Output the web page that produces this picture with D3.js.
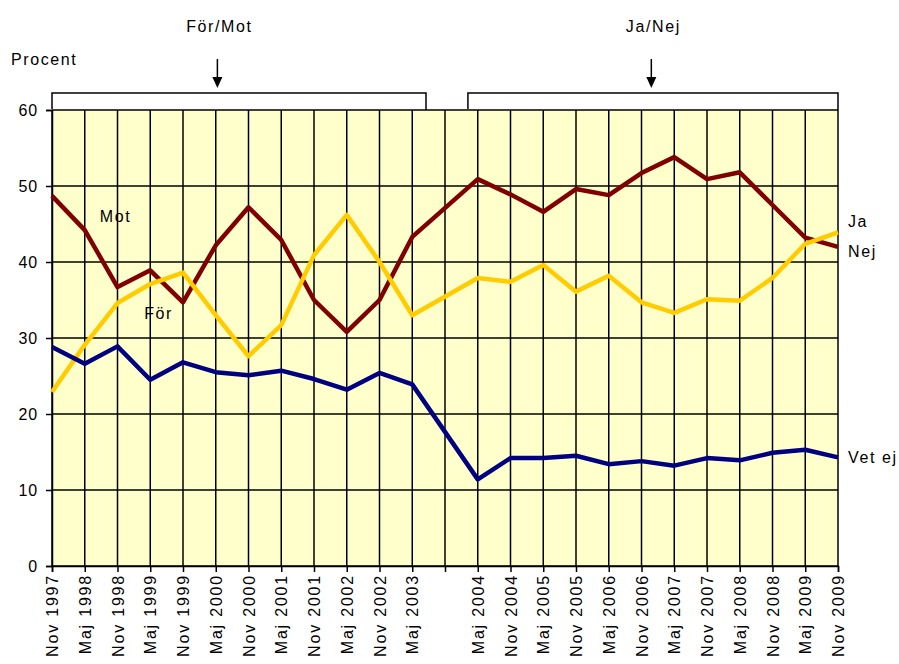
<!DOCTYPE html>
<html lang="sv">
<head>
  <meta charset="UTF-8">
  <title>För/Mot – Ja/Nej</title>
  <script src="https://d3js.org/d3.v7.min.js"></script>
  <style>
    body { margin: 0; background: #fff; font-family: "Liberation Sans", Arial, sans-serif; }
    .axis text { font-size: 16px; fill: #000; letter-spacing: 1.8px; }
    .lbl { font-size: 16px; fill: #000; letter-spacing: 1.6px; }
  </style>
</head>
<body>
  <div id="chart"></div>
  <script>
    // kategorier (tom plats mellan Maj 2003 och Maj 2004)
    const categories = ["Nov 1997", "Maj 1998", "Nov 1998", "Maj 1999", "Nov 1999", "Maj 2000",
      "Nov 2000", "Maj 2001", "Nov 2001", "Maj 2002", "Nov 2002", "Maj 2003", "",
      "Maj 2004", "Nov 2004", "Maj 2005", "Nov 2005", "Maj 2006", "Nov 2006", "Maj 2007",
      "Nov 2007", "Maj 2008", "Nov 2008", "Maj 2009", "Nov 2009"];

    const motValues = [48.7, 44.2, 36.7, 38.9, 34.7, 42.2, 47.2, 42.9, 35.0, 30.8, 35.0, 43.3, null,
      50.9, 48.9, 46.6, 49.6, 48.8, 51.7, 53.8, 50.9, 51.8, 47.5, 43.2, 42.0];
    const forValues = [22.9, 29.1, 34.6, 37.1, 38.6, 33.0, 27.6, 31.7, 40.9, 46.2, 40.0, 33.0, null,
      37.9, 37.4, 39.6, 36.1, 38.2, 34.7, 33.3, 35.1, 34.9, 37.9, 42.4, 43.9];
    const vetejValues = [28.8, 26.6, 28.9, 24.5, 26.8, 25.5, 25.1, 25.7, 24.6, 23.2, 25.4, 23.9, null,
      11.4, 14.2, 14.2, 14.5, 13.4, 13.8, 13.2, 14.2, 13.9, 14.9, 15.3, 14.3];

    const yTicks = [0, 10, 20, 30, 40, 50, 60];

    const width = 899, height = 664;
    const margin = { top: 110, right: 61, bottom: 98, left: 52 };
    const w = width - margin.left - margin.right;
    const h = height - margin.top - margin.bottom;

    const svg = d3.select("#chart").append("svg")
      .attr("width", width)
      .attr("height", height);

    const g = svg.append("g")
      .attr("transform", "translate(" + margin.left + "," + margin.top + ")");

    const x = d3.scalePoint()
      .domain(d3.range(categories.length))
      .range([0, w]);

    const y = d3.scaleLinear()
      .domain([0, 60])
      .range([h, 0]);

    // bakgrund
    g.append("rect")
      .attr("width", w)
      .attr("height", h)
      .attr("fill", "#FFFFCC");

    // rutnät
    g.selectAll(".vgrid")
      .data(d3.range(categories.length))
      .enter().append("line")
      .attr("x1", d => x(d)).attr("x2", d => x(d))
      .attr("y1", 0).attr("y2", h)
      .attr("stroke", "#000").attr("stroke-width", 1.5);

    g.selectAll(".hgrid")
      .data(yTicks)
      .enter().append("line")
      .attr("x1", 0).attr("x2", w)
      .attr("y1", d => y(d)).attr("y2", d => y(d))
      .attr("stroke", "#000").attr("stroke-width", 1.5);

    // axlar
    const yAxis = g.append("g")
      .attr("class", "axis")
      .call(d3.axisLeft(y).tickValues(yTicks).tickSize(6).tickPadding(8));
    yAxis.select(".domain").attr("stroke-width", 1.5);
    yAxis.selectAll(".tick line").attr("stroke-width", 1.5);
    yAxis.selectAll(".tick text").style("letter-spacing", "0.8px");

    const xAxis = g.append("g")
      .attr("class", "axis")
      .attr("transform", "translate(0," + h + ")")
      .call(d3.axisBottom(x).tickSize(6).tickFormat(i => categories[i]));
    xAxis.select(".domain").attr("stroke-width", 1.5);
    xAxis.selectAll(".tick line").attr("stroke-width", 1.5);
    xAxis.selectAll(".tick text")
      .attr("transform", "rotate(-90)")
      .attr("x", -8)
      .attr("y", 0)
      .attr("dy", "0.35em")
      .style("text-anchor", "end");

    // linjer
    const series = [
      { name: "Mot", values: motValues, color: "#800000" },
      { name: "För", values: forValues, color: "#FFCC00" },
      { name: "Vet ej", values: vetejValues, color: "#000080" }
    ];

    const line = d3.line()
      .x(d => x(d.i))
      .y(d => y(d.v));

    series.forEach(s => {
      const pts = s.values.map((v, i) => ({ i: i, v: v })).filter(d => d.v !== null);
      g.append("path")
        .datum(pts)
        .attr("fill", "none")
        .attr("stroke", s.color)
        .attr("stroke-width", 4.5)
        .attr("stroke-linejoin", "round")
        .attr("d", line);
    });

    // etiketter i diagrammet
    g.append("text").attr("class", "lbl").attr("x", x(1) + 15).attr("y", y(45.3)).text("Mot");
    g.append("text").attr("class", "lbl").attr("x", x(3) - 6).attr("y", y(32.5)).text("För");
    g.append("text").attr("class", "lbl").attr("x", w + 10).attr("y", y(44.6)).text("Ja");
    g.append("text").attr("class", "lbl").attr("x", w + 10).attr("y", y(40.7)).text("Nej");
    g.append("text").attr("class", "lbl").attr("x", w + 10).attr("y", y(13.5)).text("Vet ej");

    // rubriker ovanför
    svg.append("text").attr("class", "lbl").attr("x", 11).attr("y", 65).text("Procent");

    const brackets = [
      { name: "För/Mot", from: 0, to: 11.42, arrow: 5.05 },
      { name: "Ja/Nej", from: 12.7, to: 24, arrow: 18.3 }
    ];

    brackets.forEach(b => {
      const x0 = margin.left + x(0) + (x(1) - x(0)) * b.from;
      const x1 = margin.left + x(0) + (x(1) - x(0)) * b.to;
      const xa = margin.left + x(0) + (x(1) - x(0)) * b.arrow;
      svg.append("path")
        .attr("d", "M" + x0 + "," + (margin.top - 1) + "V" + 93 + "H" + x1 + "V" + margin.top)
        .attr("fill", "none")
        .attr("stroke", "#000")
        .attr("stroke-width", 1.5);
      svg.append("line")
        .attr("x1", xa).attr("x2", xa)
        .attr("y1", 59).attr("y2", 80)
        .attr("stroke", "#000").attr("stroke-width", 1.5);
      svg.append("path")
        .attr("d", "M" + (xa - 5) + ",77L" + (xa + 5) + ",77L" + xa + ",88Z")
        .attr("fill", "#000");
      svg.append("text").attr("class", "lbl")
        .attr("x", xa + 2).attr("y", 32)
        .attr("text-anchor", "middle")
        .text(b.name);
    });
  </script>
</body>
</html>
